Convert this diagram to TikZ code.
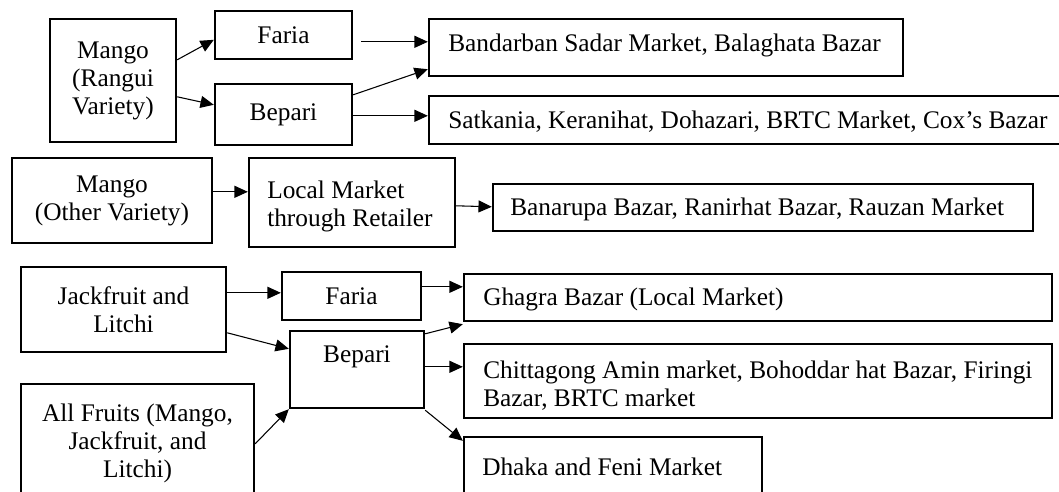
\documentclass[tikz,border=0pt]{standalone}
\usepackage{fontspec}
\setmainfont{Liberation Serif}
\usetikzlibrary{fit,arrows.meta}
\tikzstyle{box}=[draw,line width=1.8pt,inner sep=0pt]
\tikzstyle{txt}=[inner sep=0pt,align=left,font=\fontsize{19}{21}\selectfont]
\tikzstyle{line}=[draw,line width=0.8pt,-{Triangle[length=10pt,width=9pt]}]

\begin{document}
\begin{tikzpicture}[x=0.75pt,y=-0.75pt]
  \useasboundingbox (0,0) rectangle (1059,492);
  \clip (0,0) rectangle (1059,492);

  % rangui mango
  \node[box,fit={(50,19) (176,142)}] (MR) {};
  \node[txt,align=center] (MRtext) at (MR.center) {Mango\\(Rangui\\Variety)};
  \node[box,fit={(215,11) (352,59)}] (FA1) {};
  \node[txt] (FA1text) at (FA1.center) {Faria};
  \node[box,fit={(215,84) (352,145)}] (BE1) {};
  \node[txt] (BE1text) at (BE1.center) {Bepari};
  \node[box,fit={(429,19) (903,76)}] (BB) {};
  \node[txt,anchor=base west] (BBtext) at (448,52) {Bandarban Sadar Market, Balaghata Bazar};
  \node[box,fit={(429,96) (1066,144)}] (SK) {};
  \node[txt,anchor=base west] (SKtext) at (448,128) {Satkania, Keranihat, Dohazari, BRTC Market, Cox’s Bazar};

  % other mango
  \node[box,fit={(12,158) (212,243)}] (MO) {};
  \node[txt,align=center] (MOtext) at (MO.center) {Mango\\(Other Variety)};
  \node[box,fit={(249,158) (455,247)}] (LM) {};
  \node[txt,anchor=west] (LMtext) at (267,206) {Local Market\\through Retailer};
  \node[box,fit={(493,184) (1033,231)}] (BR) {};
  \node[txt,anchor=base west] (BRtext) at (510,215) {Banarupa Bazar, Ranirhat Bazar, Rauzan Market};

  % jackfruit, litchi and all fruits
  \node[box,fit={(21,267) (226,352)}] (JL) {};
  \node[txt,align=center] (JLtext) at (JL.center) {Jackfruit and\\Litchi};
  \node[box,fit={(21,384) (254,510)}] (AF) {};
  \node[txt,align=center] (AFtext) at (137.5,443) {All Fruits (Mango,\\Jackfruit, and\\Litchi)};
  \node[box,fit={(282,272) (421,320)}] (FA2) {};
  \node[txt] (FA2text) at (FA2.center) {Faria};
  \node[box,fit={(290,331) (424,408)}] (BE2) {};
  \node[txt] (BE2text) at (357,357) {Bepari};
  \node[box,fit={(464,274) (1052,321)}] (GH) {};
  \node[txt,anchor=base west] (GHtext) at (483,305) {Ghagra Bazar (Local Market)};
  \node[box,fit={(464,344) (1052,418)}] (CH) {};
  \node[txt,anchor=west] (CHtext) at (483,386) {Chittagong Amin market, Bohoddar hat Bazar, Firingi\\Bazar, BRTC market};
  \node[box,fit={(464,437) (762,510)}] (DH) {};
  \node[txt,anchor=base west] (DHtext) at (482,475) {Dhaka and Feni Market};

  \path[line] ([shift={(0,42)}]MR.north east) -- ([shift={(0,30)}]FA1.north west);
  \path[line] ([shift={(0,79)}]MR.north east) -- ([shift={(0,22)}]BE1.north west);
  \path[line] ([shift={(8,32)}]FA1.north east) -- ([shift={(0,24)}]BB.north west);
  \path[line] ([shift={(0,12)}]BE1.north east) -- ([shift={(0,-8)}]BB.south west);
  \path[line] ([shift={(0,33)}]BE1.north east) -- ([shift={(0,21)}]SK.north west);

  \path[line] ([shift={(0,35)}]MO.north east) -- ([shift={(0,35)}]LM.north west);
  \path[line] ([shift={(0,49)}]LM.north east) -- ([shift={(0,24)}]BR.north west);

  \path[line] ([shift={(0,27)}]JL.north east) -- ([shift={(0,22)}]FA2.north west);
  \path[line] ([shift={(0,67)}]JL.north east) -- ([shift={(0,19)}]BE2.north west);
  \path[line] ([shift={(0,61)}]AF.north east) -- (BE2.south west);
  \path[line] ([shift={(0,16)}]FA2.north east) -- ([shift={(0,14)}]GH.north west);
  \path[line] ([shift={(0,4)}]BE2.north east) -- ([shift={(0,2)}]GH.south west);
  \path[line] ([shift={(0,37)}]BE2.north east) -- ([shift={(0,24)}]CH.north west);
  \path[line] ([shift={(0,1)}]BE2.south east) -- ([shift={(0,5)}]DH.north west);
\end{tikzpicture}
\end{document}
